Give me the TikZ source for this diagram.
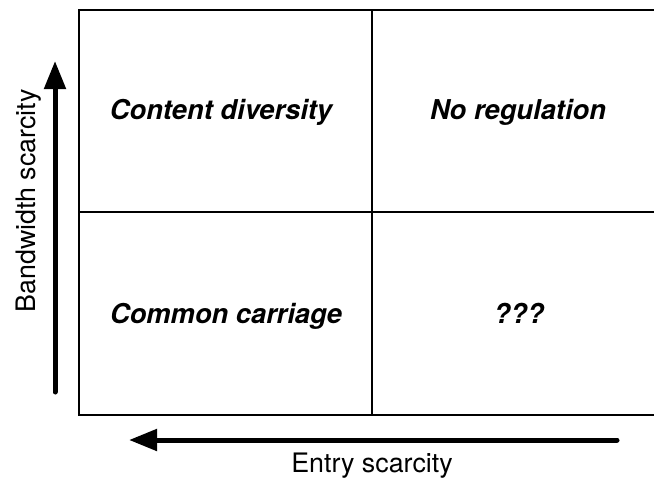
\documentclass[tikz,border=0pt]{standalone}
\usepackage{fontspec}
\setmainfont{TeX Gyre Heros}
\usetikzlibrary{arrows.meta}
\begin{document}
\begin{tikzpicture}[x=1pt,y=-1pt,
  gridline/.style={line width=2.8pt,line cap=rect},
  axisarrow/.style={line width=5pt,line cap=round,-{Triangle[length=28pt,width=21pt]}},
  celltext/.style={font=\fontsize{27.3}{30}\selectfont\bfseries\itshape,anchor=base},
  axistext/.style={font=\fontsize{26.8}{30}\selectfont,anchor=base}]
  \useasboundingbox (0,0) rectangle (654,479);
  \begin{scope}
    \clip (0,0) rectangle (654,479);
    % 2x2 matrix
    \draw[gridline] (79,10) rectangle (666,415);
    \draw[gridline] (372,10) -- (372,415);
    \draw[gridline] (79,212) -- (666,212);
  \end{scope}
  % cell labels
  \node[celltext] (cd) at (221,119) {Content diversity};
  \node[celltext] (nr) at (518,119) {No regulation};
  \node[celltext] (cc) at (226,323) {Common carriage};
  \node[celltext] (qq) at (519,323) {???};
  % axes
  \coordinate (vs) at (55,392);
  \coordinate (ve) at (55,61);
  \coordinate (hs) at (617,440);
  \coordinate (he) at (129,440);
  \draw[axisarrow] (vs) -- (ve);
  \draw[axisarrow] (hs) -- (he);
  \node[axistext] (ey) at (372,472) {Entry scarcity};
  \node[axistext,rotate=90] (bw) at (35,201) {Bandwidth scarcity};
\end{tikzpicture}
\end{document}
